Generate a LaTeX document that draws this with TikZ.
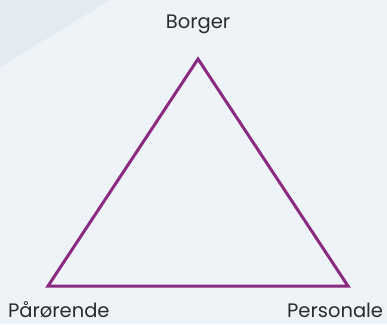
\documentclass[tikz,border=0pt]{standalone}
\usepackage{fontspec}
\setmainfont{Poppins}
\definecolor{bgmain}{HTML}{EEF3F7}
\definecolor{bgdark}{HTML}{E3EAF1}
\definecolor{tri}{HTML}{8A2A80}
\definecolor{txt}{HTML}{2B2B2B}
\begin{document}
\begin{tikzpicture}[x=1pt,y=-1pt,
  lbl/.style={text=txt,font=\fontsize{19.5}{23}\selectfont,inner sep=0pt,text depth=0pt,anchor=base west},
  edge/.style={draw=tri,line width=3pt,line join=miter}]
\useasboundingbox (0,0) rectangle (387,324);
\fill[bgmain] (0,0) rectangle (387,324);
\fill[bgdark] (0,0) -- (110,0) -- (0,67) -- cycle;
\coordinate (top) at (198,59);
\coordinate (left) at (48,286);
\coordinate (right) at (348,286);
\draw[edge] (top) -- (right) -- (left) -- cycle;
\node[lbl,anchor=base] (borger) at (198,28.5) {Borger};
\node[lbl] (paaroerende) at (8,317) {Pårørende};
\node[lbl] (personale) at (287,317) {Personale};
\end{tikzpicture}
\end{document}
